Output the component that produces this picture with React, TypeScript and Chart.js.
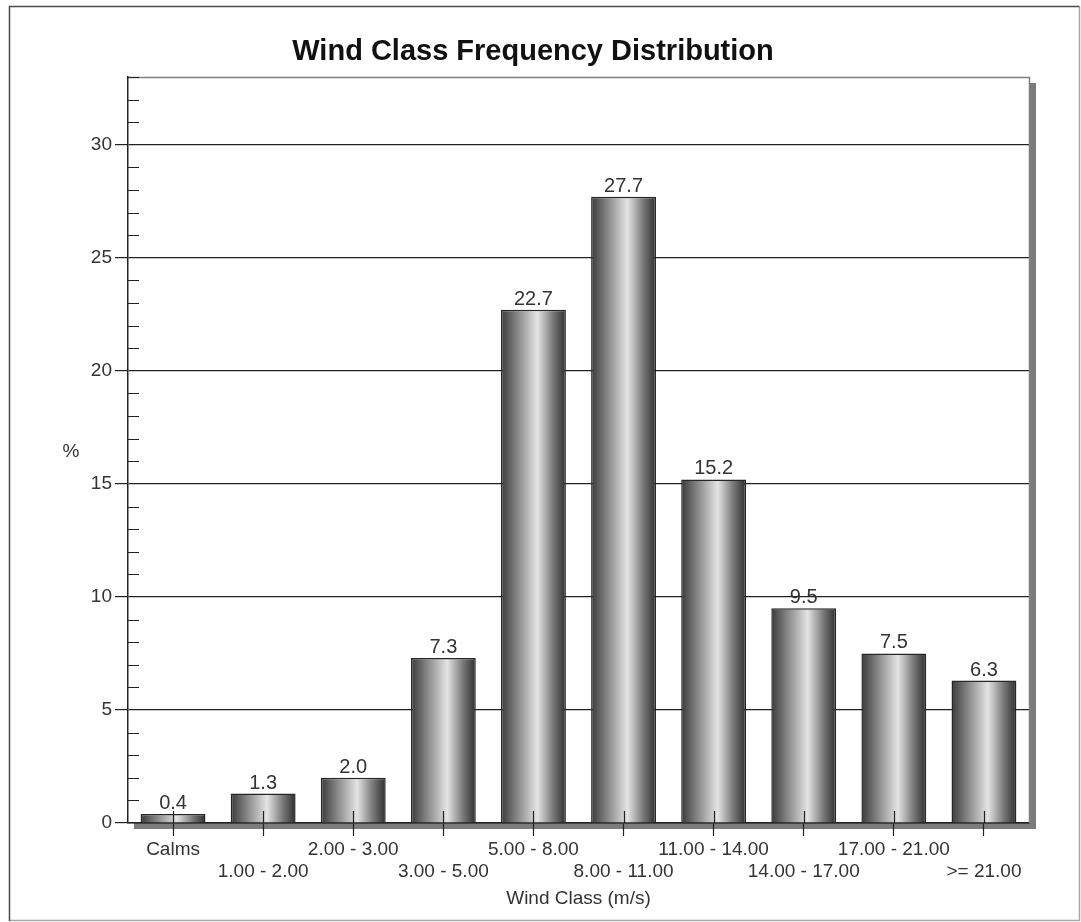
import React, { useEffect, useRef } from 'react';
import { Chart, registerables } from 'chart.js';

Chart.register(...registerables);

// ---- data ----
const categories = [
  'Calms',
  '1.00 - 2.00',
  '2.00 - 3.00',
  '3.00 - 5.00',
  '5.00 - 8.00',
  '8.00 - 11.00',
  '11.00 - 14.00',
  '14.00 - 17.00',
  '17.00 - 21.00',
  '>= 21.00',
];
const frequencies = [0.4, 1.3, 2.0, 7.3, 22.7, 27.7, 15.2, 9.5, 7.5, 6.3];
const yMin = 0;
const yMax = 33;
const yMajorStep = 5;
const yMinorStep = 1;
const chartTitle = 'Wind Class Frequency Distribution';
const xAxisTitle = 'Wind Class (m/s)';
const yAxisTitle = '%';

const FONT = "Arial, 'Liberation Sans', sans-serif";
const W = 1081;
const H = 922;

const barFrac = 0.72;

const decorPlugin = {
  id: 'decor',
  beforeDraw(chart: any) {
    const { ctx, chartArea: a } = chart;
    ctx.save();
    // outer frame
    ctx.lineWidth = 1.5;
    ctx.strokeStyle = '#a8a8a8';
    ctx.beginPath();
    ctx.moveTo(1079.5, 6.5);
    ctx.lineTo(1079.5, 920.5);
    ctx.lineTo(9.5, 920.5);
    ctx.stroke();
    ctx.strokeStyle = '#4a4a4a';
    ctx.beginPath();
    ctx.moveTo(9.5, 921);
    ctx.lineTo(9.5, 6.5);
    ctx.lineTo(1079.5, 6.5);
    ctx.stroke();
    // plot shadow
    ctx.fillStyle = '#7c7c7c';
    ctx.fillRect(a.right + 1, a.top + 6, 6, a.bottom - a.top);
    ctx.fillRect(a.left + 6, a.bottom, a.right - a.left + 1, 6);
    // title
    ctx.fillStyle = '#111';
    ctx.font = `bold 29px ${FONT}`;
    ctx.textAlign = 'center';
    ctx.textBaseline = 'alphabetic';
    ctx.fillText(chartTitle, 533, 60);
    // y axis title
    ctx.fillStyle = '#333';
    ctx.font = `19px ${FONT}`;
    ctx.fillText(yAxisTitle, 71, 457);
    ctx.restore();
  },
  beforeDatasetsDraw(chart: any) {
    const ctx = chart.ctx;
    const meta = chart.getDatasetMeta(0);
    meta.data.forEach((el: any) => {
      const w = el.width;
      const cx = el.x;
      if (!isFinite(w) || !isFinite(cx)) return;
      const g = ctx.createLinearGradient(cx - w / 2, 0, cx + w / 2, 0);
      g.addColorStop(0, '#3a3a3a');
      g.addColorStop(0.2, '#777777');
      g.addColorStop(0.56, '#e4e4e4');
      g.addColorStop(0.8, '#7a7a7a');
      g.addColorStop(1, '#2e2e2e');
      el.options = { ...el.options, backgroundColor: g };
    });
  },
  afterDatasetsDraw(chart: any) {
    const { ctx, chartArea: a, scales } = chart;
    const xs = scales.x;
    const ys = scales.y;
    ctx.save();
    // top & right frame of plot
    ctx.strokeStyle = '#808080';
    ctx.lineWidth = 1.5;
    ctx.beginPath();
    ctx.moveTo(a.left, a.top + 0.5);
    ctx.lineTo(a.right + 0.5, a.top + 0.5);
    ctx.lineTo(a.right + 0.5, a.bottom);
    ctx.stroke();
    // minor y ticks inside
    ctx.strokeStyle = '#222';
    ctx.lineWidth = 1.2;
    ctx.beginPath();
    for (let v = yMin; v <= yMax; v += yMinorStep) {
      if (v % yMajorStep === 0) continue;
      const py = Math.round(ys.getPixelForValue(v)) + 0.5;
      ctx.moveTo(a.left, py);
      ctx.lineTo(a.left + 11, py);
    }
    ctx.stroke();
    // inner portion of x ticks
    ctx.beginPath();
    for (let i = 0; i < categories.length; i++) {
      const px = Math.round(xs.getPixelForValue(i)) + 0.5;
      ctx.moveTo(px, a.bottom);
      ctx.lineTo(px, a.bottom - 12);
    }
    ctx.stroke();
    // value labels
    const meta = chart.getDatasetMeta(0);
    ctx.fillStyle = '#333';
    ctx.font = `20px ${FONT}`;
    ctx.textAlign = 'center';
    ctx.textBaseline = 'alphabetic';
    meta.data.forEach((el: any, i: number) => {
      ctx.fillText(frequencies[i].toFixed(1), el.x, el.y - 5);
    });
    ctx.restore();
  },
};

export default function App() {
  const ref = useRef<HTMLCanvasElement | null>(null);

  useEffect(() => {
    if (!ref.current) return;
    const chart = new Chart(ref.current, {
      type: 'bar',
      data: {
        labels: categories,
        datasets: [
          {
            data: frequencies,
            barPercentage: barFrac,
            categoryPercentage: 1,
            borderColor: '#262626',
            borderWidth: 1.5,
            backgroundColor: '#999999',
          },
        ],
      },
      options: {
        responsive: false,
        animation: false,
        layout: { padding: { left: 0, top: 77, right: W - 1029, bottom: 0 } },
        plugins: {
          legend: { display: false },
          tooltip: { enabled: false },
          title: { display: false },
        },
        scales: {
          x: {
            afterFit: (s: any) => {
              s.height = H - 823;
            },
            grid: {
              offset: false,
              drawOnChartArea: false,
              drawTicks: true,
              tickLength: 13,
              tickColor: '#222',
              tickWidth: 1.2,
            },
            border: { display: true, color: '#222', width: 1.5 },
            ticks: {
              autoSkip: false,
              maxRotation: 0,
              minRotation: 0,
              padding: 2,
              color: '#333',
              font: { family: FONT, size: 19 },
              callback: (_v: any, i: number) =>
                i % 2 === 0 ? categories[i] : ['', categories[i]],
            },
            title: {
              display: true,
              text: xAxisTitle,
              color: '#333',
              font: { family: FONT, size: 19 },
              padding: { top: 0, bottom: 12 },
            },
          },
          y: {
            min: yMin,
            max: yMax,
            afterFit: (s: any) => {
              s.width = 128;
            },
            grid: {
              color: '#222',
              lineWidth: 1.2,
              drawTicks: true,
              tickLength: 13,
              tickColor: '#222',
            },
            border: { display: true, color: '#222', width: 1.5 },
            ticks: {
              stepSize: yMajorStep,
              includeBounds: false,
              padding: 3,
              color: '#333',
              font: { family: FONT, size: 19 },
            },
          },
        },
      },
      plugins: [decorPlugin],
    } as any);
    return () => chart.destroy();
  }, []);

  return (
    <div style={{ position: 'absolute', left: 0, top: 0, width: W, height: H, background: '#fff' }}>
      <canvas ref={ref} width={W} height={H} style={{ display: 'block', width: W, height: H }} />
    </div>
  );
}
